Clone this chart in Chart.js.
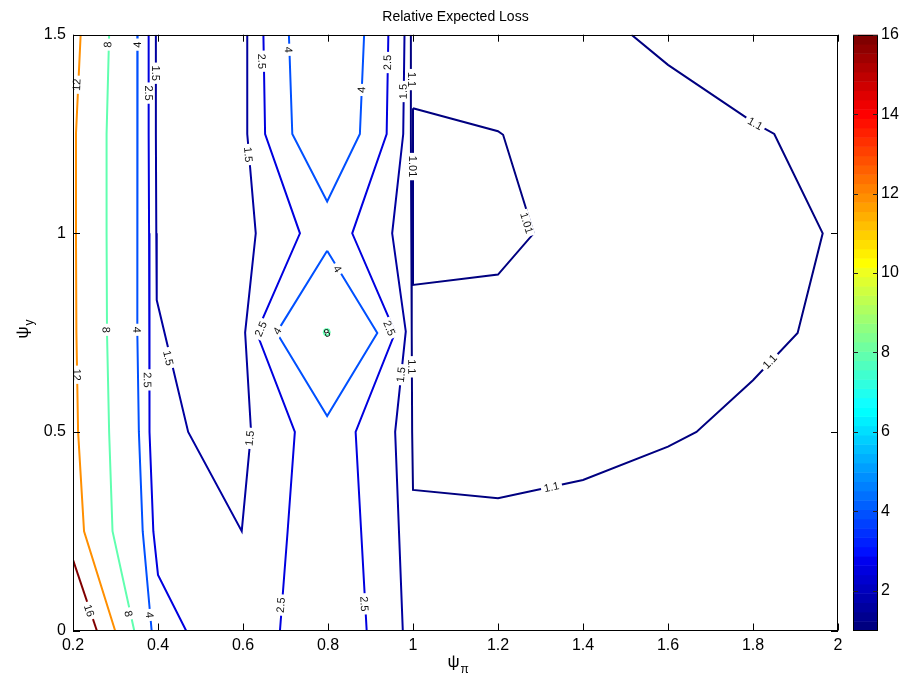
<!DOCTYPE html>
<html>
<head>
<meta charset="utf-8">
<script src="https://cdn.jsdelivr.net/npm/chart.js@4.4.1/dist/chart.umd.min.js"></script>
<style>
  html, body { margin: 0; padding: 0; background: #fff; }
  #wrap { width: 902px; height: 679px; position: relative; }
</style>
</head>
<body>
<div id="wrap"><canvas id="lossChart" width="902" height="679"></canvas></div>
<script>
var xTicks = [0.2, 0.4, 0.6, 0.8, 1, 1.2, 1.4, 1.6, 1.8, 2];
var yTicks = [0, 0.5, 1, 1.5];
var cbTicks = [2, 4, 6, 8, 10, 12, 14, 16];
var cLimits = [1, 16];

// contour lines, [x, y] vertices in data units
var line16 = [[0.2, 0.178], [0.256, 0]];
var line12 = [[0.218, 1.5], [0.207, 1.25], [0.207, 1.0], [0.208, 0.75], [0.212, 0.5], [0.226, 0.25], [0.299, 0]];
var line8 = [[0.285, 1.5], [0.279, 1.25], [0.279, 1.0], [0.280, 0.75], [0.285, 0.5], [0.293, 0.25], [0.344, 0]];
var ring8 = [[0.797, 0.759], [0.802, 0.757], [0.804, 0.751], [0.802, 0.745], [0.797, 0.743], [0.792, 0.745], [0.790, 0.751], [0.792, 0.757], [0.797, 0.759]];
var line4Left = [[0.352, 1.5], [0.351, 1.25], [0.351, 1.0], [0.352, 0.75], [0.355, 0.5], [0.364, 0.25], [0.385, 0]];
var line4Top = [[0.708, 1.5], [0.716, 1.25], [0.798, 1.08], [0.875, 1.25], [0.885, 1.5]];
var line4Diamond = [[0.798, 0.956], [0.916, 0.749], [0.798, 0.54], [0.679, 0.75], [0.798, 0.956]];
var line25Left = [[0.378, 1.5], [0.378, 1.25], [0.379, 1.0], [0.379, 0.75], [0.381, 0.5], [0.389, 0.25], [0.4, 0.14], [0.466, 0]];
var line25Mid = [[0.648, 1.5], [0.652, 1.25], [0.734, 1.0], [0.632, 0.75], [0.722, 0.5], [0.705, 0.25], [0.687, 0]];
var line25Right = [[0.942, 1.5], [0.938, 1.25], [0.857, 1.0], [0.958, 0.75], [0.865, 0.5], [0.878, 0.25], [0.891, 0]];
var line15Left = [[0.395, 1.5], [0.395, 1.25], [0.396, 1.0], [0.397, 0.832], [0.471, 0.5], [0.597, 0.25], [0.619, 0.5], [0.605, 0.75], [0.63, 1.0], [0.61, 1.25], [0.61, 1.5]];
var line15Right = [[0.98, 1.5], [0.977, 1.25], [0.951, 1.0], [0.983, 0.753], [0.958, 0.5], [0.967, 0.25], [0.976, 0]];
var line11 = [[0.995, 1.5], [0.995, 1.25], [0.996, 1.0], [0.997, 0.75], [0.998, 0.5], [1.0, 0.354], [1.2, 0.333], [1.4, 0.379], [1.6, 0.463], [1.667, 0.5], [1.8, 0.63], [1.905, 0.749], [1.964, 1.0], [1.85, 1.25], [1.8, 1.28], [1.6, 1.424], [1.514, 1.5]];
var line101 = [[1.0, 1.315], [1.2, 1.257], [1.212, 1.248], [1.284, 1.0], [1.2, 0.896], [1.0, 0.87], [1.0, 1.315]];

var contours = [
  ['16', line16], ['12', line12], ['8', line8], ['8', ring8],
  ['4', line4Left], ['4', line4Top], ['4', line4Diamond],
  ['2.5', line25Left], ['2.5', line25Mid], ['2.5', line25Right],
  ['1.5', line15Left], ['1.5', line15Right],
  ['1.1', line11], ['1.01', line101]
];

// inline contour labels: text, x, y, (false = no gap)
var contourLabels = [
  ['12', 0.209, 1.374], ['12', 0.209, 0.644], ['16', 0.238, 0.05],
  ['8', 0.282, 1.475], ['8', 0.278, 0.757], ['8', 0.330, 0.042], ['8', 0.798, 0.749, false],
  ['4', 0.352, 1.475], ['4', 0.35, 0.757], ['4', 0.38, 0.039],
  ['4', 0.707, 1.462], ['4', 0.879, 1.361], ['4', 0.822, 0.91], ['4', 0.681, 0.754],
  ['2.5', 0.378, 1.353], ['2.5', 0.375, 0.631], ['2.5', 0.644, 1.433], ['2.5', 0.642, 0.759],
  ['2.5', 0.689, 0.064], ['2.5', 0.94, 1.43], ['2.5', 0.944, 0.761], ['2.5', 0.885, 0.067],
  ['1.5', 0.395, 1.403], ['1.5', 0.424, 0.686], ['1.5', 0.612, 1.198], ['1.5', 0.616, 0.484],
  ['1.5', 0.977, 1.357], ['1.5', 0.972, 0.644],
  ['1.1', 0.997, 1.387], ['1.1', 0.997, 0.664], ['1.1', 1.326, 0.361], ['1.1', 1.805, 1.276], ['1.1', 1.84, 0.677],
  ['1.01', 0.998, 1.168], ['1.01', 1.267, 1.026]
];

var FONT = '"Liberation Sans", Arial, Helvetica, sans-serif';

// MATLAB jet(64)
function jetIndex(i) {
  function u(k) {
    if (k < 1 || k > 47) return 0;
    if (k <= 16) return k / 16;
    if (k <= 31) return 1;
    return (48 - k) / 16;
  }
  var r = i >= 25 ? u(i - 24) : 0;
  var g = (i >= 9 && i <= 55) ? u(i - 8) : 0;
  var b = i <= 39 ? u(i + 7) : 0;
  return 'rgb(' + Math.round(r * 255) + ',' + Math.round(g * 255) + ',' + Math.round(b * 255) + ')';
}
function jetColor(v) {
  var i = Math.floor((v - cLimits[0]) / (cLimits[1] - cLimits[0]) * 64) + 1;
  return jetIndex(Math.max(1, Math.min(64, i)));
}
function fmt(v) { return String(Math.round(v * 10) / 10); }

var datasets = contours.map(function (c) {
  return {
    label: c[0],
    data: c[1].map(function (p) { return { x: p[0], y: p[1] }; }),
    borderColor: jetColor(parseFloat(c[0])),
    borderWidth: 2,
    showLine: true,
    pointRadius: 0,
    fill: false,
    tension: 0
  };
});

function labelAngle(chart, lab) {
  var xs = chart.scales.x, ys = chart.scales.y;
  var px = xs.getPixelForValue(lab[1]), py = ys.getPixelForValue(lab[2]);
  var best = 0, bestD = Infinity;
  chart.data.datasets.forEach(function (ds) {
    if (ds.label !== lab[0]) return;
    for (var i = 0; i < ds.data.length - 1; i++) {
      var ax = xs.getPixelForValue(ds.data[i].x), ay = ys.getPixelForValue(ds.data[i].y);
      var bx = xs.getPixelForValue(ds.data[i + 1].x), by = ys.getPixelForValue(ds.data[i + 1].y);
      var dx = bx - ax, dy = by - ay, len2 = dx * dx + dy * dy;
      var t = len2 ? Math.max(0, Math.min(1, ((px - ax) * dx + (py - ay) * dy) / len2)) : 0;
      var qx = ax + t * dx - px, qy = ay + t * dy - py, d = qx * qx + qy * qy;
      if (d < bestD) { bestD = d; best = Math.atan2(dy, dx); }
    }
  });
  if (best > Math.PI / 2) best -= Math.PI;
  if (best <= -Math.PI / 2) best += Math.PI;
  return best;
}

var contourLabelPlugin = {
  id: 'contourLabels',
  afterDatasetsDraw: function (chart) {
    var ctx = chart.ctx;
    ctx.save();
    ctx.font = '11px ' + FONT;
    ctx.textAlign = 'center';
    ctx.textBaseline = 'middle';
    contourLabels.forEach(function (lab) {
      var px = chart.scales.x.getPixelForValue(lab[1]);
      var py = chart.scales.y.getPixelForValue(lab[2]);
      var a = labelAngle(chart, lab);
      var w = ctx.measureText(lab[0]).width;
      ctx.save();
      ctx.translate(px, py);
      ctx.rotate(a);
      if (lab[3] !== false) {
        ctx.fillStyle = '#fff';
        ctx.fillRect(-w / 2 - 3, -5, w + 6, 10);
      }
      ctx.fillStyle = '#111';
      ctx.fillText(lab[0], 0, 0.5);
      ctx.restore();
    });
    ctx.restore();
  }
};

var framePlugin = {
  id: 'frame',
  afterDraw: function (chart) {
    var ctx = chart.ctx, a = chart.chartArea;
    var xs = chart.scales.x, ys = chart.scales.y, cb = chart.scales.cb;
    ctx.save();
    ctx.strokeStyle = '#000';
    ctx.lineWidth = 1;
    ctx.strokeRect(Math.round(a.left) + 0.5, Math.round(a.top) + 0.5, Math.round(a.right - a.left) - 1, Math.round(a.bottom - a.top) - 1);
    ctx.beginPath();
    xTicks.forEach(function (v) {
      var p = Math.round(xs.getPixelForValue(v)) + 0.5;
      ctx.moveTo(p, a.bottom); ctx.lineTo(p, a.bottom - 7);
      ctx.moveTo(p, a.top); ctx.lineTo(p, a.top + 7);
    });
    yTicks.forEach(function (v) {
      var p = Math.round(ys.getPixelForValue(v)) + 0.5;
      ctx.moveTo(a.left, p); ctx.lineTo(a.left + 7, p);
      ctx.moveTo(a.right, p); ctx.lineTo(a.right - 7, p);
    });
    ctx.stroke();

    // colorbar
    var left = Math.round(cb.left + 15), right = Math.round(cb.left + 40);
    var step = (cLimits[1] - cLimits[0]) / 64;
    for (var i = 1; i <= 64; i++) {
      var y0 = cb.getPixelForValue(cLimits[0] + (i - 1) * step);
      var y1 = cb.getPixelForValue(cLimits[0] + i * step);
      ctx.fillStyle = jetIndex(i);
      ctx.fillRect(left, y1, right - left, y0 - y1 + 0.5);
    }
    ctx.strokeRect(left + 0.5, Math.round(cb.top) + 0.5, right - left - 1, Math.round(cb.bottom - cb.top) - 1);
    ctx.beginPath();
    cbTicks.forEach(function (v) {
      var p = Math.round(cb.getPixelForValue(v)) + 0.5;
      ctx.moveTo(left, p); ctx.lineTo(left + 5, p);
      ctx.moveTo(right, p); ctx.lineTo(right - 5, p);
    });
    ctx.strokeStyle = '#222';
    ctx.stroke();

    // title and axis titles with subscripts
    ctx.fillStyle = '#000';
    ctx.textBaseline = 'alphabetic';
    ctx.textAlign = 'center';
    ctx.font = '14px ' + FONT;
    ctx.fillText('Relative Expected Loss', (a.left + a.right) / 2, 21);

    ctx.textAlign = 'left';
    ctx.font = '17px ' + FONT;
    var wPsi = ctx.measureText('\u03c8').width;
    var cx = (a.left + a.right) / 2 - 8;
    ctx.fillText('\u03c8', cx, 667);
    ctx.font = '12px ' + FONT;
    ctx.fillText('\u03c0', cx + wPsi + 1, 673);

    ctx.save();
    ctx.translate(28, (a.top + a.bottom) / 2 + 6);
    ctx.rotate(-Math.PI / 2);
    ctx.font = '17px ' + FONT;
    ctx.fillText('\u03c8', 0, 0);
    ctx.font = '12px ' + FONT;
    ctx.fillText('y', wPsi + 1, 5);
    ctx.restore();
    ctx.restore();
  }
};

function noPad(s) { s.paddingTop = 0; s.paddingBottom = 0; s.paddingLeft = 0; s.paddingRight = 0; }

var ctx = document.getElementById('lossChart').getContext('2d');
var chart = new Chart(ctx, {
  type: 'scatter',
  data: { datasets: datasets },
  options: {
    responsive: false,
    animation: false,
    layout: { padding: { left: 0, right: 0, top: 34.7, bottom: 0 } },
    plugins: {
      legend: { display: false },
      tooltip: { enabled: false },
      title: { display: false }
    },
    scales: {
      x: {
        type: 'linear', min: 0.2, max: 2,
        afterBuildTicks: function (s) { s.ticks = xTicks.map(function (v) { return { value: v }; }); },
        afterFit: function (s) { s.height = 48.5; noPad(s); },
        ticks: { color: '#000', font: { size: 16, family: FONT }, padding: 5, maxRotation: 0, callback: fmt },
        grid: { display: false, drawTicks: false },
        border: { display: false }
      },
      y: {
        type: 'linear', min: 0, max: 1.5,
        afterBuildTicks: function (s) { s.ticks = yTicks.map(function (v) { return { value: v }; }); },
        afterFit: function (s) { s.width = 73; noPad(s); },
        ticks: { color: '#000', font: { size: 16, family: FONT }, padding: 7, callback: fmt },
        grid: { display: false, drawTicks: false },
        border: { display: false }
      },
      cb: {
        type: 'linear', position: 'right', min: cLimits[0], max: cLimits[1],
        afterBuildTicks: function (s) { s.ticks = cbTicks.map(function (v) { return { value: v }; }); },
        afterFit: function (s) { s.width = 64; noPad(s); },
        ticks: { color: '#000', font: { size: 16, family: FONT }, padding: 43, callback: fmt },
        grid: { display: false, drawTicks: false },
        border: { display: false }
      }
    }
  },
  plugins: [contourLabelPlugin, framePlugin]
});
</script>
</body>
</html>
